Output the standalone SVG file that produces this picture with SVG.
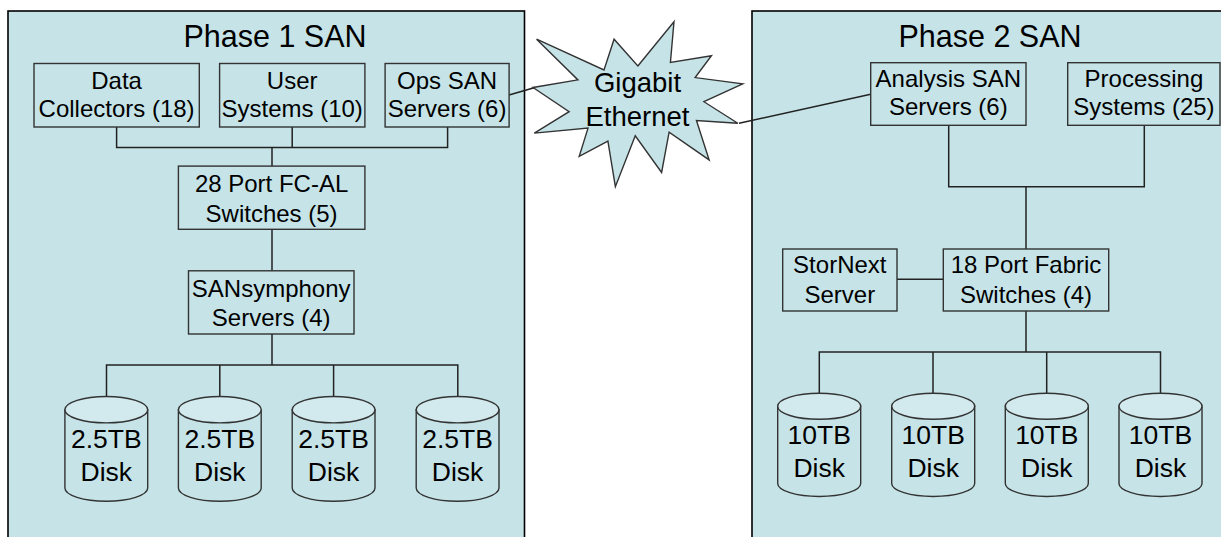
<svg xmlns="http://www.w3.org/2000/svg" width="1221" height="537" viewBox="0 0 1221 537">
<style>
.panel{fill:#c6e4e8;stroke:#000;stroke-width:1.6}
.box{fill:#c6e4e8;stroke:#333;stroke-width:1.4}
.cyl{fill:#c6e4e8;stroke:#333;stroke-width:1.4}
.cap{fill:#d2eaee;stroke:#333;stroke-width:1.4}
.ln{fill:none;stroke:#222;stroke-width:1.5}
text{font-family:"Liberation Sans",Arial,sans-serif;fill:#000;text-anchor:middle}
.t{font-size:30.5px}
.l{font-size:24px}
.d{font-size:26.5px}
.g{font-size:27.5px}
</style>
<rect width="1221" height="537" fill="#fff"/>
<g id="phase1">
<rect class="panel" x="8" y="11" width="516.5" height="540"/>
<text class="t" x="275" y="47">Phase 1 SAN</text>
</g>
<g id="phase2">
<rect class="panel" x="752" y="11" width="480" height="540"/>
<text class="t" x="990" y="47">Phase 2 SAN</text>
</g>
<g id="connectors">
<path class="ln" d="M116.6 127V147.6H447.6V127M292.2 127V147.6M272 147.6V166"/>
<path class="ln" d="M272 229.3V270.8M272 334V365.1"/>
<path class="ln" d="M106.5 396.5V365.1H457.8V396.5M219.8 365.1V396.5M333.6 365.1V396.5"/>
<path class="ln" d="M509 95L535 87.5"/>
<path class="ln" d="M739 123.2L870.7 94.3"/>
<path class="ln" d="M948.7 125.3V186.7H1144.3V125.3M1026 186.7V249"/>
<path class="ln" d="M897 279.3H943.3M1026 311V352"/>
<path class="ln" d="M819.3 393.3V352H1160.5V393.3M933 352V393.3M1046.7 352V393.3"/>
</g>
<g id="gigabit">
<polygon class="box" points="637.85,66 673.98,21.7 670.42,62.38 711.43,55.75 695.14,77.58 742.7,83.86 703.93,101.72 737.81,123.22 696.45,120.56 709.15,159.93 669.11,132.14 661.6,172.47 635.25,135.79 615.37,186.7 607.9,141.07 579.23,156.28 588.02,128.16 534.31,133.13 569.13,111.65 533,87.51 577.92,79.89 536.59,39.23 603.99,69.98 614.08,39.23"/>
<text class="g" x="637.5" y="92">Gigabit</text>
<text class="g" x="637.5" y="126">Ethernet</text>
</g>
<g id="data-collectors">
<rect class="box" x="34" y="63.5" width="165.3" height="63.5"/>
<text class="l" x="116.6" y="88.5">Data</text>
<text class="l" x="116.6" y="116.5">Collectors (18)</text>
</g>
<g id="user-systems">
<rect class="box" x="219.6" y="63.5" width="145.3" height="63.5"/>
<text class="l" x="292.2" y="88.5">User</text>
<text class="l" x="292.2" y="116.5">Systems (10)</text>
</g>
<g id="ops-san">
<rect class="box" x="385.1" y="63.5" width="124" height="63.5"/>
<text class="l" x="447.1" y="88.5">Ops SAN</text>
<text class="l" x="447.1" y="116.5">Servers (6)</text>
</g>
<g id="fcal-switches">
<rect class="box" x="178.4" y="166.1" width="186.5" height="63.2"/>
<text class="l" x="271.6" y="192.1">28 Port FC-AL</text>
<text class="l" x="271.6" y="221.5">Switches (5)</text>
</g>
<g id="sansymphony">
<rect class="box" x="188.5" y="270.8" width="165.5" height="63.2"/>
<text class="l" x="271.2" y="296.8">SANsymphony</text>
<text class="l" x="271.2" y="325.5">Servers (4)</text>
</g>
<g id="disk1a">
<path class="cyl" d="M64.9 409.7V488A41.4 13.2 0 0 0 147.7 488V409.7Z"/>
<ellipse class="cap" cx="106.3" cy="409.7" rx="41.4" ry="13.2"/>
<text class="d" x="106.3" y="447.8">2.5TB</text>
<text class="d" x="106.3" y="481">Disk</text>
</g>
<g id="disk1b">
<path class="cyl" d="M178.4 409.7V488A41.4 13.2 0 0 0 261.2 488V409.7Z"/>
<ellipse class="cap" cx="219.8" cy="409.7" rx="41.4" ry="13.2"/>
<text class="d" x="219.8" y="447.8">2.5TB</text>
<text class="d" x="219.8" y="481">Disk</text>
</g>
<g id="disk1c">
<path class="cyl" d="M292.2 409.7V488A41.4 13.2 0 0 0 375 488V409.7Z"/>
<ellipse class="cap" cx="333.6" cy="409.7" rx="41.4" ry="13.2"/>
<text class="d" x="333.6" y="447.8">2.5TB</text>
<text class="d" x="333.6" y="481">Disk</text>
</g>
<g id="disk1d">
<path class="cyl" d="M416.2 409.7V488A41.4 13.2 0 0 0 499 488V409.7Z"/>
<ellipse class="cap" cx="457.6" cy="409.7" rx="41.4" ry="13.2"/>
<text class="d" x="457.6" y="447.8">2.5TB</text>
<text class="d" x="457.6" y="481">Disk</text>
</g>
<g id="analysis-san">
<rect class="box" x="870.7" y="62.7" width="155.3" height="62.6"/>
<text class="l" x="948.3" y="87.3">Analysis SAN</text>
<text class="l" x="948.3" y="115">Servers (6)</text>
</g>
<g id="processing">
<rect class="box" x="1067.7" y="62.7" width="152.3" height="62.6"/>
<text class="l" x="1143.9" y="87.3">Processing</text>
<text class="l" x="1143.9" y="115">Systems (25)</text>
</g>
<g id="stornext">
<rect class="box" x="782.7" y="249" width="114.3" height="62"/>
<text class="l" x="839.8" y="273.3">StorNext</text>
<text class="l" x="839.8" y="302.7">Server</text>
</g>
<g id="fabric-switches">
<rect class="box" x="943.3" y="249" width="165.4" height="62"/>
<text class="l" x="1026" y="273.3">18 Port Fabric</text>
<text class="l" x="1026" y="302.7">Switches (4)</text>
</g>
<g id="disk2a">
<path class="cyl" d="M777.7 406.3V483.5A41.5 13 0 0 0 860.7 483.5V406.3Z"/>
<ellipse class="cap" cx="819.2" cy="406.3" rx="41.5" ry="13"/>
<text class="d" x="819.2" y="444">10TB</text>
<text class="d" x="819.2" y="476.7">Disk</text>
</g>
<g id="disk2b">
<path class="cyl" d="M891.7 406.3V483.5A41.5 13 0 0 0 974.7 483.5V406.3Z"/>
<ellipse class="cap" cx="933.2" cy="406.3" rx="41.5" ry="13"/>
<text class="d" x="933.2" y="444">10TB</text>
<text class="d" x="933.2" y="476.7">Disk</text>
</g>
<g id="disk2c">
<path class="cyl" d="M1005.3 406.3V483.5A41.5 13 0 0 0 1088.3 483.5V406.3Z"/>
<ellipse class="cap" cx="1046.8" cy="406.3" rx="41.5" ry="13"/>
<text class="d" x="1046.8" y="444">10TB</text>
<text class="d" x="1046.8" y="476.7">Disk</text>
</g>
<g id="disk2d">
<path class="cyl" d="M1119 406.3V483.5A41.5 13 0 0 0 1202 483.5V406.3Z"/>
<ellipse class="cap" cx="1160.5" cy="406.3" rx="41.5" ry="13"/>
<text class="d" x="1160.5" y="444">10TB</text>
<text class="d" x="1160.5" y="476.7">Disk</text>
</g>
</svg>
